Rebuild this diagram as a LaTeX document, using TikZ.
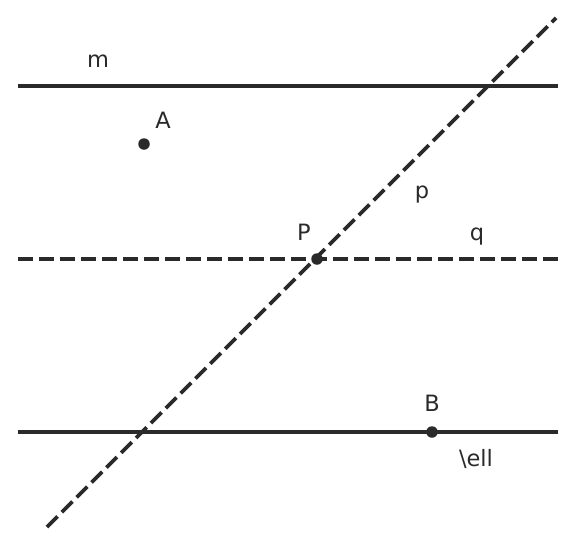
\documentclass[tikz,border=0pt]{standalone}
\usepackage{fontspec}
\setmainfont{DejaVu Sans}
\definecolor{ink}{HTML}{2A2A2A}
\begin{document}
\begin{tikzpicture}[x=1pt,y=-1pt,
  solidline/.style={draw=ink,line width=3.8pt},
  dashline/.style={draw=ink,line width=3.8pt,dash pattern=on 15pt off 6pt},
  pt/.style={circle,fill=ink,inner sep=0pt,minimum size=11.5pt},
  lbl/.style={text=ink,font=\fontsize{22.5}{26}\selectfont,anchor=base,inner sep=0pt}]
\useasboundingbox (0,0) rectangle (576,547);
\coordinate (m1) at (18,86); \coordinate (m2) at (558,86);
\coordinate (q1) at (18,259); \coordinate (q2) at (558,259);
\coordinate (l1) at (18,432); \coordinate (l2) at (558,432);
\coordinate (p1) at (47,527); \coordinate (p2) at (556,18);
\draw[solidline] (m1) -- (m2);
\draw[solidline] (l1) -- (l2);
\draw[dashline] (q1) -- (q2);
\draw[dashline] (p1) -- (p2);
\node[pt] (A) at (144,144) {};
\node[pt] (P) at (317,259) {};
\node[pt] (B) at (432,432) {};
\node[lbl] (lm) at (98,67) {m};
\node[lbl] (lA) at (163,128) {A};
\node[lbl] (lp) at (422,198) {p};
\node[lbl] (lP) at (304,240) {P};
\node[lbl] (lq) at (477,240) {q};
\node[lbl] (lB) at (432,411) {B};
\node[lbl] (lell) at (476,466) {\textbackslash ell};
\end{tikzpicture}
\end{document}
